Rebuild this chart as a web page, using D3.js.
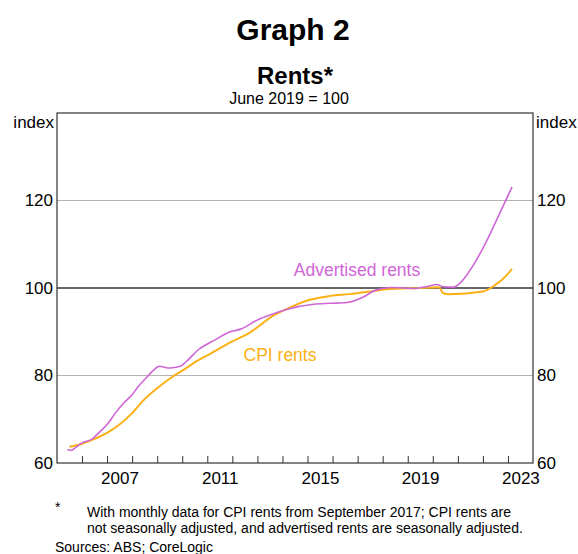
<!DOCTYPE html>
<html>
<head>
<meta charset="utf-8">
<script src="https://cdn.jsdelivr.net/npm/d3@7"></script>
<style>
  body { margin: 0; background: #fff; }
  svg { display: block; font-family: "Liberation Sans", Arial, sans-serif; }
</style>
</head>
<body>
<svg id="chart" width="578" height="554"></svg>
<script>
// Advertised rents (seasonally adjusted)
const advertisedDates = [
  '2005-06', '2005-08', '2005-09', '2006-01', '2006-06', '2006-09', '2007-01', '2007-05',
  '2007-09', '2008-01', '2008-04', '2008-08', '2008-11', '2009-02', '2009-07', '2009-12',
  '2010-03', '2010-09', '2011-05', '2011-12', '2012-05', '2013-01', '2013-08', '2014-03',
  '2015-04', '2015-12', '2016-08', '2017-04', '2017-09', '2018-05', '2019-05', '2019-06',
  '2019-10', '2020-03', '2020-06', '2020-11', '2021-02', '2021-08', '2022-03', '2022-09',
  '2023-03'
]
const advertisedValues = [
  63.1, 62.9, 63.2, 64.6, 65.5, 66.9, 68.8, 71.4,
  73.7, 75.6, 77.5, 79.6, 81.1, 82.1, 81.7, 82.1,
  83.2, 86.0, 88.2, 90.0, 90.6, 92.7, 94.0, 95.1,
  96.3, 96.5, 96.7, 98.0, 99.4, 100.1, 99.9, 100.0,
  100.3, 100.8, 100.3, 100.2, 101.1, 104.9, 110.9, 117.0,
  123.1
]

// CPI rents (quarterly, monthly from Sep 2017)
const cpiDates = [
  '2005-07', '2006-01', '2006-07', '2007-01', '2007-07', '2008-01', '2008-07', '2009-02',
  '2009-08', '2010-01', '2010-07', '2011-01', '2012-01', '2012-09', '2013-09', '2014-04',
  '2015-02', '2015-12', '2016-09', '2017-07', '2018-03', '2019-06', '2020-04', '2020-06',
  '2020-09', '2022-01', '2022-07', '2022-12', '2023-03'
]
const cpiValues = [
  63.7, 64.4, 65.5, 66.9, 68.8, 71.4, 74.6, 77.5,
  79.6, 81.1, 83.0, 84.6, 87.8, 89.7, 93.8, 95.4,
  97.3, 98.2, 98.6, 99.2, 99.7, 100.0, 100.2, 98.8,
  98.6, 99.2, 100.7, 102.7, 104.4
]

const yTicks = [60, 80, 100, 120]
const yearLabels = [2007, 2011, 2015, 2019, 2023]

const parseMonth = d3.timeParse('%Y-%m')
const advertised = advertisedDates.map((d, i) => ({ date: parseMonth(d), value: advertisedValues[i] }))
const cpi = cpiDates.map((d, i) => ({ date: parseMonth(d), value: cpiValues[i] }))

const svg = d3.select('#chart')
const plot = { left: 57, right: 533, top: 113, bottom: 463 }

const x = d3.scaleTime()
  .domain([new Date(2005, 0, 1), new Date(2024, 0, 1)])
  .range([plot.left, plot.right])
const y = d3.scaleLinear()
  .domain([60, 140])
  .range([plot.bottom, plot.top])

// titles
svg.append('text')
  .attr('x', 293).attr('y', 40)
  .attr('text-anchor', 'middle')
  .style('font-size', '30px').style('font-weight', '700')
  .text('Graph 2')
svg.append('text')
  .attr('x', 295).attr('y', 84)
  .attr('text-anchor', 'middle')
  .style('font-size', '24px').style('font-weight', '700')
  .text('Rents*')
svg.append('text')
  .attr('x', 289).attr('y', 104)
  .attr('text-anchor', 'middle')
  .style('font-size', '16px')
  .text('June 2019 = 100')

// gridlines
svg.append('g')
  .selectAll('line')
  .data(yTicks.filter((v) => v !== 60))
  .join('line')
  .attr('x1', plot.left).attr('x2', plot.right)
  .attr('y1', (d) => y(d)).attr('y2', (d) => y(d))
  .attr('stroke', (d) => d === 100 ? '#333' : '#b4b4b4')
  .attr('stroke-width', (d) => d === 100 ? 1.3 : 1)

// frame
svg.append('rect')
  .attr('x', plot.left).attr('y', plot.top)
  .attr('width', plot.right - plot.left).attr('height', plot.bottom - plot.top)
  .attr('fill', 'none').attr('stroke', '#333').attr('stroke-width', 1.2)

// y axes, both sides
const leftAxis = svg.append('g')
  .attr('transform', `translate(${plot.left},0)`)
  .call(d3.axisLeft(y).tickValues(yTicks).tickSize(0).tickPadding(4))
const rightAxis = svg.append('g')
  .attr('transform', `translate(${plot.right},0)`)
  .call(d3.axisRight(y).tickValues(yTicks).tickSize(0).tickPadding(4))
;[leftAxis, rightAxis].forEach((g) => {
  g.select('.domain').remove()
  g.selectAll('text').style('font-size', '17px').attr('fill', '#000')
})

svg.append('text')
  .attr('x', plot.left - 3).attr('y', 128)
  .attr('text-anchor', 'end')
  .style('font-size', '17px')
  .text('index')
svg.append('text')
  .attr('x', plot.right + 3).attr('y', 128)
  .attr('text-anchor', 'start')
  .style('font-size', '17px')
  .text('index')

// x ticks at each year, pointing into the plot
const yearTicks = d3.range(2006, 2024).map((yr) => new Date(yr, 0, 1))
const xTicks = svg.append('g')
  .attr('transform', `translate(0,${plot.bottom})`)
  .call(d3.axisBottom(x).tickValues(yearTicks).tickSize(-7).tickFormat(''))
xTicks.select('.domain').remove()
xTicks.selectAll('line').attr('stroke', '#333')

// year labels centred within the year
const xLabels = svg.append('g')
  .attr('transform', `translate(0,${plot.bottom})`)
  .call(d3.axisBottom(x)
    .tickValues(yearLabels.map((yr) => new Date(yr, 6, 1)))
    .tickSize(0).tickPadding(9)
    .tickFormat(d3.timeFormat('%Y')))
xLabels.select('.domain').remove()
xLabels.selectAll('text').style('font-size', '17px').attr('fill', '#000')

// series
const line = d3.line()
  .x((d) => x(d.date))
  .y((d) => y(d.value))
  .curve(d3.curveMonotoneX)

svg.append('path')
  .datum(cpi)
  .attr('d', line)
  .attr('fill', 'none')
  .attr('stroke', '#fbb014')
  .attr('stroke-width', 2)

svg.append('path')
  .datum(advertised)
  .attr('d', line)
  .attr('fill', 'none')
  .attr('stroke', '#cf66d6')
  .attr('stroke-width', 1.6)

// series labels
svg.append('text')
  .attr('x', 357).attr('y', 276)
  .attr('text-anchor', 'middle')
  .style('font-size', '17.5px')
  .attr('fill', '#cf66d6')
  .text('Advertised rents')
svg.append('text')
  .attr('x', 280).attr('y', 361)
  .attr('text-anchor', 'middle')
  .style('font-size', '17.5px')
  .attr('fill', '#fbb014')
  .text('CPI rents')

// footnotes
const notes = svg.append('g').style('font-size', '14px').attr('fill', '#000')
notes.append('text').attr('x', 55).attr('y', 512).text('*')
notes.append('text').attr('x', 87).attr('y', 517)
  .text('With monthly data for CPI rents from September 2017; CPI rents are')
notes.append('text').attr('x', 87).attr('y', 533)
  .text('not seasonally adjusted, and advertised rents are seasonally adjusted.')
notes.append('text').attr('x', 55).attr('y', 552)
  .text('Sources: ABS; CoreLogic')
</script>
</body>
</html>
